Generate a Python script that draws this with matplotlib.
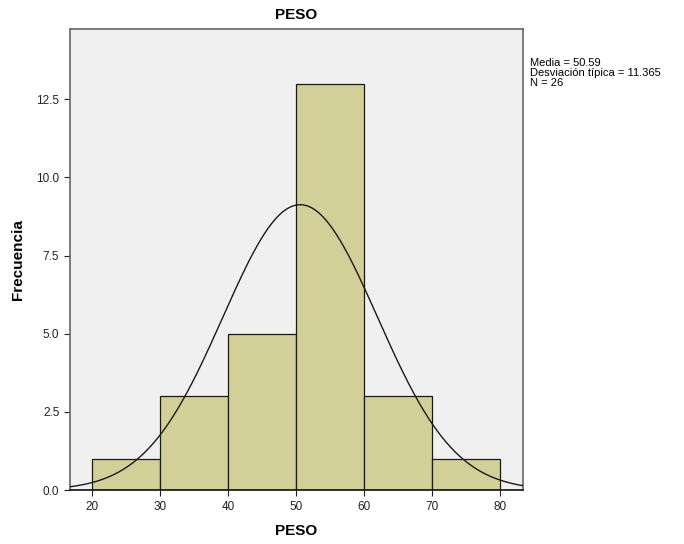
import matplotlib.pyplot as plt
import numpy as np

plt.rcParams['font.family'] = ['Liberation Sans', 'DejaVu Sans']

# datos del histograma
bin_edges = [20, 30, 40, 50, 60, 70, 80]
counts = [1, 3, 5, 13, 3, 1]
media = 50.59
desv = 11.365
n = 26
yticks = [0.0, 2.5, 5.0, 7.5, 10.0, 12.5]
xticks = [20, 30, 40, 50, 60, 70, 80]

fig = plt.figure(figsize=(6.84, 5.44), dpi=100)
ax = fig.add_axes([0.102, 0.099, 0.663, 0.848])
ax.set_facecolor('#f0f0f0')

left = np.array(bin_edges[:-1])
width = np.diff(bin_edges)
ax.bar(left, counts, width=width, align='edge', color='#d3cf98',
       edgecolor='#1a1a1a', linewidth=0.9, zorder=2)

# curva normal
xs = np.linspace(16.7, 83.4, 400)
ys = n * 10 / (desv * np.sqrt(2 * np.pi)) * np.exp(-0.5 * ((xs - media) / desv) ** 2)
ax.plot(xs, ys, color='#1a1a1a', linewidth=1.0, zorder=3)

ax.set_xlim(16.7, 83.4)
ax.set_ylim(0, 14.75)
ax.set_xticks(xticks)
ax.set_yticks(yticks)
ax.set_yticklabels([f'{v:.1f}' for v in yticks])
ax.tick_params(labelsize=8.5, length=4, width=0.8, colors='#222222')
for s in ['top', 'right', 'left']:
    ax.spines[s].set_color('#666666')
    ax.spines[s].set_linewidth(1.2)
ax.spines['bottom'].set_color('#111111')
ax.spines['bottom'].set_linewidth(1.2)

ax.set_title('PESO', fontsize=11, fontweight='bold', pad=7)
ax.set_xlabel('PESO', fontsize=11, fontweight='bold', labelpad=8)
ax.set_ylabel('Frecuencia', fontsize=11, fontweight='bold', labelpad=8)

fig.text(0.775, 0.893, f'Media = {media}\nDesviación típica = {desv}\nN = {n}',
         fontsize=8, va='top', ha='left', linespacing=1.0)

fig.savefig('out.png', dpi=100)
